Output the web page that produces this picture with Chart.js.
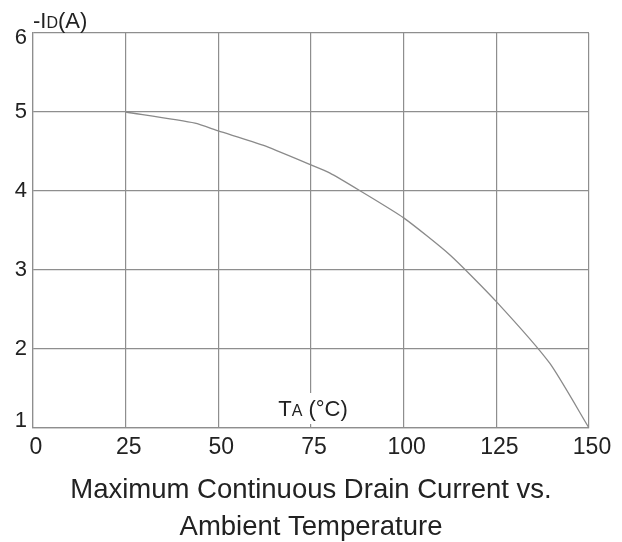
<!DOCTYPE html>
<html>
<head>
<meta charset="utf-8">
<title>Maximum Continuous Drain Current vs. Ambient Temperature</title>
<script src="https://cdn.jsdelivr.net/npm/chart.js@4/dist/chart.umd.min.js"></script>
<style>
  html, body { margin: 0; padding: 0; background: #ffffff; }
  #wrap { position: relative; width: 622px; height: 542px; }
</style>
</head>
<body>
<div id="wrap"><canvas id="chart" width="622" height="542"></canvas></div>
<script>
// Ambient temperature TA (°C) and derated drain current -ID (A)
const temperatures = [25, 43.7, 50, 62, 75, 80, 88, 100, 112.5, 125, 139.4, 150];
const drainCurrent = [5.0, 4.86, 4.76, 4.58, 4.33, 4.23, 4.01, 3.66, 3.19, 2.60, 1.82, 1.0];

const xTicks = [0, 25, 50, 75, 100, 125, 150];
const yTicks = [1, 2, 3, 4, 5, 6];

const titleLines = ['Maximum Continuous Drain Current vs.', 'Ambient Temperature'];

const FONT = '"Liberation Sans", Arial, sans-serif';
const NARROW = '"Liberation Sans Narrow", "Arial Narrow", "Liberation Sans", sans-serif';
const INK = '#222222';
const GRID = '#8e8e8e';

// Draws a label whose middle part is set smaller (e.g. I + D, T + A)
function drawSplitLabel(ctx, parts, x, y, align) {
  let total = 0;
  parts.forEach(p => {
    ctx.font = p.size + 'px ' + FONT;
    p.w = ctx.measureText(p.text).width;
    total += p.w;
  });
  let cx = align === 'center' ? x - total / 2 : x;
  parts.forEach(p => {
    ctx.font = p.size + 'px ' + FONT;
    ctx.fillText(p.text, cx, y);
    cx += p.w;
  });
  return total;
}

const annotations = {
  id: 'annotations',
  afterDatasetsDraw(chart) {
    const { ctx, chartArea, scales } = chart;
    ctx.save();
    ctx.fillStyle = INK;

    // y tick labels; the end labels sit just inside the plot edges
    ctx.font = '22px ' + NARROW;
    ctx.textAlign = 'right';
    ctx.textBaseline = 'middle';
    yTicks.forEach(v => {
      let py = scales.y.getPixelForValue(v);
      if (v === scales.y.max) py += 5;
      if (v === scales.y.min) py -= 7;
      ctx.fillText(String(v), chartArea.left - 6, py);
    });

    ctx.textBaseline = 'alphabetic';
    ctx.textAlign = 'left';

    // y-axis caption above the plot
    drawSplitLabel(ctx, [
      { text: '-I', size: 22 },
      { text: 'D', size: 16 },
      { text: '(A)', size: 22 }
    ], chartArea.left, chartArea.top - 5, 'left');

    // x-axis caption inside the plot, over the 75 °C gridline
    const cx = scales.x.getPixelForValue(75) + 2;
    const base = chartArea.bottom - 12;
    ctx.fillStyle = '#ffffff';
    ctx.fillRect(cx - 38, base - 23, 76, 31);
    ctx.fillStyle = INK;
    drawSplitLabel(ctx, [
      { text: 'T', size: 22 },
      { text: 'A', size: 16 },
      { text: ' (\u00B0C)', size: 22 }
    ], cx, base, 'center');

    // chart title beneath the axis
    ctx.textAlign = 'center';
    ctx.font = '27.5px ' + FONT;
    const mid = (chartArea.left + chartArea.right) / 2;
    ctx.fillText(titleLines[0], mid, 498);
    ctx.fillText(titleLines[1], mid, 535);
    ctx.restore();
  }
};

new Chart(document.getElementById('chart'), {
  type: 'line',
  data: {
    datasets: [{
      data: temperatures.map((t, i) => ({ x: t, y: drainCurrent[i] })),
      borderColor: '#8a8a8a',
      borderWidth: 1.3,
      pointRadius: 0,
      tension: 0.2,
      fill: false
    }]
  },
  options: {
    responsive: false,
    animation: false,
    devicePixelRatio: 1,
    layout: { padding: { left: 0, top: 33, right: 33, bottom: 0 } },
    plugins: {
      legend: { display: false },
      tooltip: { enabled: false },
      title: { display: false }
    },
    scales: {
      x: {
        type: 'linear',
        min: 0,
        max: 150,
        afterFit(scale) { scale.height = 114; },
        afterBuildTicks(scale) { scale.ticks = xTicks.map(v => ({ value: v })); },
        grid: { color: GRID, lineWidth: 1.2, drawTicks: false },
        border: { color: GRID, width: 1.2 },
        ticks: {
          padding: 6,
          labelOffset: 3,
          color: INK,
          font: { family: NARROW, size: 23 },
          maxRotation: 0
        }
      },
      y: {
        min: 1,
        max: 6,
        afterFit(scale) { scale.width = 33; },
        afterBuildTicks(scale) { scale.ticks = yTicks.map(v => ({ value: v })); },
        grid: { color: GRID, lineWidth: 1.2, drawTicks: false },
        border: { color: GRID, width: 1.2 },
        ticks: { display: false }
      }
    }
  },
  plugins: [annotations]
});
</script>
</body>
</html>
